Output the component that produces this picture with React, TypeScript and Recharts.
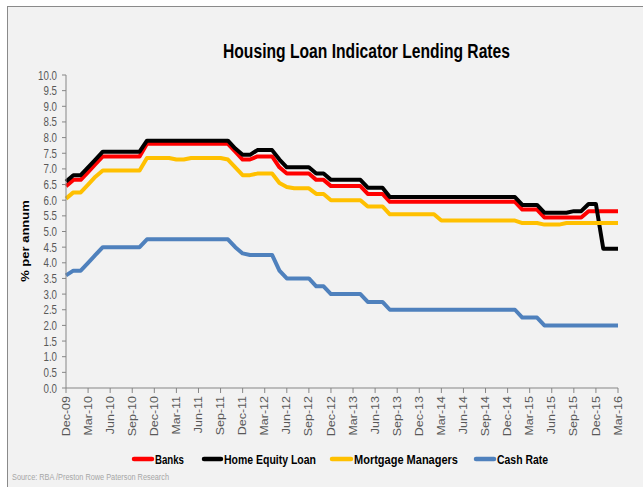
import { LineChart, Line, XAxis, YAxis } from 'recharts'

const months = [
  'Dec-09',
  'Jan-10', 'Feb-10', 'Mar-10', 'Apr-10', 'May-10', 'Jun-10', 'Jul-10', 'Aug-10', 'Sep-10', 'Oct-10', 'Nov-10', 'Dec-10',
  'Jan-11', 'Feb-11', 'Mar-11', 'Apr-11', 'May-11', 'Jun-11', 'Jul-11', 'Aug-11', 'Sep-11', 'Oct-11', 'Nov-11', 'Dec-11',
  'Jan-12', 'Feb-12', 'Mar-12', 'Apr-12', 'May-12', 'Jun-12', 'Jul-12', 'Aug-12', 'Sep-12', 'Oct-12', 'Nov-12', 'Dec-12',
  'Jan-13', 'Feb-13', 'Mar-13', 'Apr-13', 'May-13', 'Jun-13', 'Jul-13', 'Aug-13', 'Sep-13', 'Oct-13', 'Nov-13', 'Dec-13',
  'Jan-14', 'Feb-14', 'Mar-14', 'Apr-14', 'May-14', 'Jun-14', 'Jul-14', 'Aug-14', 'Sep-14', 'Oct-14', 'Nov-14', 'Dec-14',
  'Jan-15', 'Feb-15', 'Mar-15', 'Apr-15', 'May-15', 'Jun-15', 'Jul-15', 'Aug-15', 'Sep-15', 'Oct-15', 'Nov-15', 'Dec-15',
  'Jan-16', 'Feb-16', 'Mar-16',
]

const banks = [
  6.45,
  6.65, 6.65, 6.9, 7.15, 7.4, 7.4, 7.4, 7.4, 7.4, 7.4, 7.8, 7.8,
  7.8, 7.8, 7.8, 7.8, 7.8, 7.8, 7.8, 7.8, 7.8, 7.8, 7.55, 7.3,
  7.3, 7.4, 7.4, 7.4, 7.05, 6.85, 6.85, 6.85, 6.85, 6.65, 6.65, 6.45,
  6.45, 6.45, 6.45, 6.45, 6.2, 6.2, 6.2, 5.95, 5.95, 5.95, 5.95, 5.95,
  5.95, 5.95, 5.95, 5.95, 5.95, 5.95, 5.95, 5.95, 5.95, 5.95, 5.95, 5.95,
  5.95, 5.7, 5.7, 5.7, 5.45, 5.45, 5.45, 5.45, 5.45, 5.45, 5.65, 5.65,
  5.65, 5.65, 5.65,
]

const homeEquity = [
  6.6,
  6.8, 6.8, 7.05, 7.3, 7.55, 7.55, 7.55, 7.55, 7.55, 7.55, 7.9, 7.9,
  7.9, 7.9, 7.9, 7.9, 7.9, 7.9, 7.9, 7.9, 7.9, 7.9, 7.65, 7.45,
  7.45, 7.6, 7.6, 7.6, 7.3, 7.05, 7.05, 7.05, 7.05, 6.85, 6.85, 6.65,
  6.65, 6.65, 6.65, 6.65, 6.4, 6.4, 6.4, 6.1, 6.1, 6.1, 6.1, 6.1,
  6.1, 6.1, 6.1, 6.1, 6.1, 6.1, 6.1, 6.1, 6.1, 6.1, 6.1, 6.1,
  6.1, 5.85, 5.85, 5.85, 5.6, 5.6, 5.6, 5.6, 5.65, 5.65, 5.88, 5.88,
  4.45, 4.45, 4.45,
]

const mortgageManagers = [
  6.05,
  6.25, 6.25, 6.5, 6.75, 6.95, 6.95, 6.95, 6.95, 6.95, 6.95, 7.35, 7.35,
  7.35, 7.35, 7.3, 7.3, 7.35, 7.35, 7.35, 7.35, 7.35, 7.3, 7.05, 6.8,
  6.8, 6.85, 6.85, 6.85, 6.55, 6.42, 6.38, 6.38, 6.38, 6.2, 6.2, 6.0,
  6.0, 6.0, 6.0, 6.0, 5.8, 5.8, 5.8, 5.55, 5.55, 5.55, 5.55, 5.55,
  5.55, 5.55, 5.35, 5.35, 5.35, 5.35, 5.35, 5.35, 5.35, 5.35, 5.35, 5.35,
  5.35, 5.27, 5.27, 5.27, 5.22, 5.22, 5.22, 5.27, 5.27, 5.27, 5.27, 5.27,
  5.27, 5.27, 5.27,
]

const cashRate = [
  3.6,
  3.75, 3.75, 4.0, 4.25, 4.5, 4.5, 4.5, 4.5, 4.5, 4.5, 4.75, 4.75,
  4.75, 4.75, 4.75, 4.75, 4.75, 4.75, 4.75, 4.75, 4.75, 4.75, 4.5, 4.3,
  4.25, 4.25, 4.25, 4.25, 3.75, 3.5, 3.5, 3.5, 3.5, 3.25, 3.25, 3.0,
  3.0, 3.0, 3.0, 3.0, 2.75, 2.75, 2.75, 2.5, 2.5, 2.5, 2.5, 2.5,
  2.5, 2.5, 2.5, 2.5, 2.5, 2.5, 2.5, 2.5, 2.5, 2.5, 2.5, 2.5,
  2.5, 2.25, 2.25, 2.25, 2.0, 2.0, 2.0, 2.0, 2.0, 2.0, 2.0, 2.0,
  2.0, 2.0, 2.0,
]

const yTicks = [0, 0.5, 1, 1.5, 2, 2.5, 3, 3.5, 4, 4.5, 5, 5.5, 6, 6.5, 7, 7.5, 8, 8.5, 9, 9.5, 10]

const series = [
  { key: 'banks', name: 'Banks', color: '#ff0000' },
  { key: 'homeEquity', name: 'Home Equity Loan', color: '#000000' },
  { key: 'mortgageManagers', name: 'Mortgage Managers', color: '#ffc000' },
  { key: 'cashRate', name: 'Cash Rate', color: '#4f81bd' },
]

const data = months.map((m, i) => ({
  month: m,
  banks: banks[i],
  homeEquity: homeEquity[i],
  mortgageManagers: mortgageManagers[i],
  cashRate: cashRate[i],
}))

const FONT = '"Liberation Sans", Arial, sans-serif'

const YTick = ({ x, y, payload }: any) => (
  <g transform={`translate(${x},${y})`}>
    <text transform="scale(0.78,1)" textAnchor="end" dy="0.36em" fill="#595959" fontSize={12.5} fontFamily={FONT}>
      {Number(payload.value).toFixed(1)}
    </text>
  </g>
)

const XTick = ({ x, y, payload }: any) => (
  <g transform={`translate(${x},${y})`}>
    <text transform="scale(0.8,1) rotate(-90)" textAnchor="end" dy="0.36em" fill="#595959" fontSize={12.5} fontFamily={FONT}>
      {payload.value}
    </text>
  </g>
)

// legend entries: sample line start/end, text start/width
const legendPos = [
  { x1: 134, x2: 152, tx: 155, tw: 29 },
  { x1: 204, x2: 221, tx: 224, tw: 92 },
  { x1: 332, x2: 351, tx: 354, tw: 104 },
  { x1: 476, x2: 494, tx: 497, tw: 51 },
]

export default function App() {
  return (
    <div style={{ position: 'fixed', left: 0, top: 0, width: 643, height: 487, background: '#fff', overflow: 'hidden' }}>
      <div style={{
        position: 'absolute', left: 7, top: 6, width: 660, height: 500,
        background: '#f2f2f2', borderTop: '1.5px solid #8a8a8a', borderLeft: '1.5px solid #8a8a8a',
      }} />
      <div style={{ position: 'absolute', left: 0, top: 0 }}>
        <LineChart width={643} height={487} data={data} margin={{ top: 75, right: 25, left: 0, bottom: 39 }}>
          <XAxis dataKey="month" scale="point" padding={{ left: 0, right: 0 }} interval={2}
            height={60} tick={<XTick />} tickSize={5} tickMargin={3}
            axisLine={{ stroke: '#868686' }} tickLine={{ stroke: '#868686' }} />
          <YAxis domain={[0, 10]} ticks={yTicks} interval={0} width={66} tick={<YTick />} tickSize={4} tickMargin={5}
            axisLine={{ stroke: '#868686' }} tickLine={{ stroke: '#868686' }} allowDataOverflow />
          {series.map(s => (
            <Line key={s.key} type="linear" dataKey={s.key} name={s.name} stroke={s.color}
              strokeWidth={4} dot={false} activeDot={false} strokeLinejoin="round" isAnimationActive={false} />
          ))}
        </LineChart>
      </div>
      <svg width={643} height={487} style={{ position: 'absolute', left: 0, top: 0, pointerEvents: 'none' }}>
        <text x={223} y={58} fontSize={19.5} fontWeight="bold" fontFamily={FONT} fill="#000"
          textLength={287} lengthAdjust="spacingAndGlyphs">
          Housing Loan Indicator Lending Rates
        </text>
        <text transform="translate(29,241) scale(0.8,1) rotate(-90)" textAnchor="middle" fontSize={13}
          fontWeight="bold" fontFamily={FONT} fill="#000">
          % per annum
        </text>
        {series.map((s, i) => (
          <g key={s.key}>
            <line x1={legendPos[i].x1} x2={legendPos[i].x2} y1={459} y2={459} stroke={s.color}
              strokeWidth={4.5} strokeLinecap="round" />
            <text x={legendPos[i].tx} y={463.5} fontSize={13} fontWeight="bold" fontFamily={FONT} fill="#000"
              textLength={legendPos[i].tw} lengthAdjust="spacingAndGlyphs">
              {s.name}
            </text>
          </g>
        ))}
        <text x={12} y={480} fontSize={8.5} fontFamily={FONT} fill="#a6a6a6" textLength={157}
          lengthAdjust="spacingAndGlyphs">
          Source: RBA /Preston Rowe Paterson Research
        </text>
      </svg>
    </div>
  )
}
